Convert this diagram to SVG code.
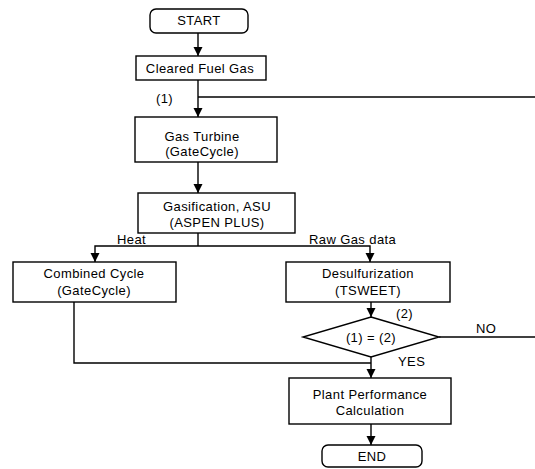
<svg xmlns="http://www.w3.org/2000/svg" width="535" height="469" viewBox="0 0 535 469">
<style>
  .box{fill:#fff;stroke:#000;stroke-width:1.4}
  .ln{fill:none;stroke:#000;stroke-width:1.4}
  text{font-family:"Liberation Sans",Arial,sans-serif;font-size:13px;letter-spacing:0.4px;fill:#000}
  .c{text-anchor:middle}
</style>
<defs>
  <marker id="ah" markerUnits="userSpaceOnUse" markerWidth="10" markerHeight="10" refX="9" refY="4.5" orient="auto">
    <path d="M0,0 L9,4.5 L0,9 z" fill="#000"/>
  </marker>
</defs>
<rect width="535" height="469" fill="#fff"/>
<g id="connectors">
  <path class="ln" d="M198,33 V56" marker-end="url(#ah)"/>
  <path class="ln" d="M198,80 V117" marker-end="url(#ah)"/>
  <path class="ln" d="M198,97 H535"/>
  <path class="ln" d="M198,162 V193" marker-end="url(#ah)"/>
  <path class="ln" d="M198,233 V246"/>
  <path class="ln" d="M198,246 H95 V262" marker-end="url(#ah)"/>
  <path class="ln" d="M198,246 H370 V262" marker-end="url(#ah)"/>
  <path class="ln" d="M371,302 V317" marker-end="url(#ah)"/>
  <path class="ln" d="M439,337 H535"/>
  <path class="ln" d="M371,357 V378" marker-end="url(#ah)"/>
  <path class="ln" d="M74,302 V363 H371"/>
  <path class="ln" d="M371,424 V445" marker-end="url(#ah)"/>
  <text x="156" y="103">(1)</text>
  <text x="117" y="244">Heat</text>
  <text x="309" y="244">Raw Gas data</text>
  <text x="396" y="318">(2)</text>
  <text x="476" y="333">NO</text>
  <text x="398" y="366">YES</text>
</g>
<g id="start">
  <rect class="box" x="150" y="9" width="98" height="24" rx="6"/>
  <text class="c" x="199" y="25">START</text>
</g>
<g id="cleared-fuel-gas">
  <rect class="box" x="136" y="56" width="130" height="24"/>
  <text class="c" x="200" y="73">Cleared Fuel Gas</text>
</g>
<g id="gas-turbine">
  <rect class="box" x="135" y="117" width="142" height="45"/>
  <text class="c" x="202" y="141">Gas Turbine</text>
  <text class="c" x="202" y="156">(GateCycle)</text>
</g>
<g id="gasification">
  <rect class="box" x="138" y="193" width="157" height="40"/>
  <text class="c" x="217" y="211">Gasification, ASU</text>
  <text class="c" x="217" y="227">(ASPEN PLUS)</text>
</g>
<g id="combined-cycle">
  <rect class="box" x="13" y="262" width="163" height="40"/>
  <text class="c" x="94" y="278">Combined Cycle</text>
  <text class="c" x="94" y="295">(GateCycle)</text>
</g>
<g id="desulfurization">
  <rect class="box" x="286" y="262" width="164" height="40"/>
  <text class="c" x="368" y="278">Desulfurization</text>
  <text class="c" x="368" y="295">(TSWEET)</text>
</g>
<g id="decision">
  <polygon class="box" points="371,317 439,337 371,357 303,337"/>
  <text class="c" x="371" y="342">(1) = (2)</text>
</g>
<g id="plant-performance">
  <rect class="box" x="289" y="378" width="162" height="46"/>
  <text class="c" x="370" y="399">Plant Performance</text>
  <text class="c" x="370" y="415">Calculation</text>
</g>
<g id="end">
  <rect class="box" x="322" y="445" width="100" height="22" rx="6"/>
  <text class="c" x="372" y="461">END</text>
</g>
</svg>
